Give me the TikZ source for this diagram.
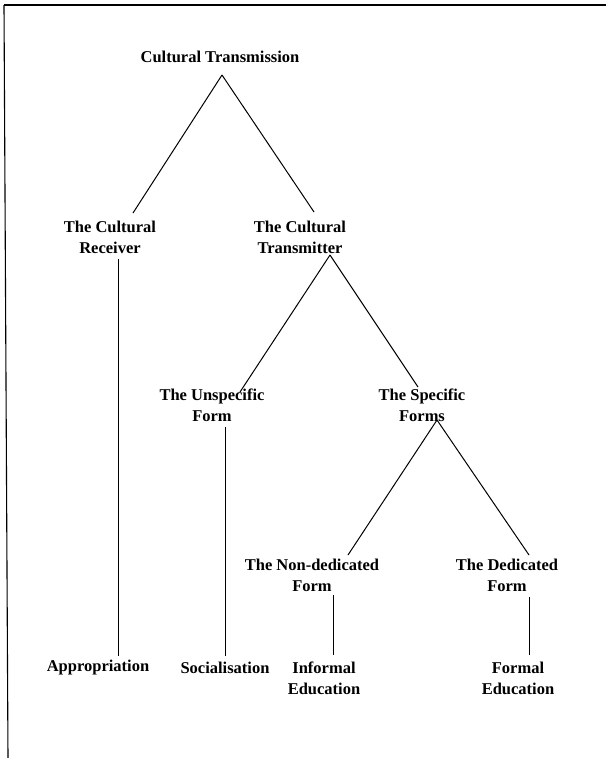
\documentclass[tikz,border=0pt]{standalone}
\usepackage{fontspec}
\setmainfont{Liberation Serif}
\usepackage{tikz}
\usetikzlibrary{positioning}
\tikzset{
  lbl/.style={align=center, inner sep=0pt,
    font=\fontsize{16.5}{21}\selectfont\bfseries},
  ln/.style={line width=1pt, black},
  frm/.style={line width=1.1pt, black},
}

\begin{document}
\begin{tikzpicture}[x=1pt,y=-1pt]
  \useasboundingbox (0,0) rectangle (606,758);
  % rahmen
  \draw[frm] (4,5) -- (606,5);
  \draw[frm] (4,5) -- (8,758);

  % ebene 1
  \node[lbl] (root) at (220,57) {Cultural Transmission};

  % ebene 2
  \node[lbl] (rec) at (110,237.5) {The Cultural\\Receiver};
  \node[lbl] (trans) at (300,237.5) {The Cultural\\Transmitter};

  % ebene 3
  \node[lbl] (unsp) at (212,405) {The Unspecific\\Form};
  \node[lbl] (spec) at (422,405) {The Specific\\Forms};

  % ebene 4
  \node[lbl] (nded) at (312,575.5) {The Non-dedicated\\Form};
  \node[lbl] (ded) at (507,575.5) {The Dedicated\\Form};

  % blaetter
  \node[lbl] (appr) at (98,668) {Appropriation};
  \node[lbl] (soc) at (225,668) {Socialisation};
  \node[lbl] (inf) at (324,678) {Informal\\Education};
  \node[lbl] (form) at (518,678) {Formal\\Education};

  \draw[ln] ([xshift=2pt,yshift=-18pt]root.center) -- ([xshift=23pt,yshift=24.5pt]rec.center);
  \draw[ln] ([xshift=2pt,yshift=-18pt]root.center) -- ([xshift=14pt,yshift=25.5pt]trans.center);
  \draw[ln] ([xshift=8pt,yshift=-21.5pt]rec.center) -- ([xshift=20pt,yshift=12pt]appr.center);
  \draw[ln] ([xshift=30pt,yshift=-17.5pt]trans.center) -- ([xshift=28pt,yshift=13pt]unsp.center);
  \draw[ln] ([xshift=30pt,yshift=-17.5pt]trans.center) -- ([xshift=-4pt,yshift=18pt]spec.center);
  \draw[ln] ([xshift=13pt,yshift=-22pt]unsp.center) -- ([yshift=12pt]soc.center);
  \draw[ln] ([xshift=15pt,yshift=-15pt]spec.center) -- ([xshift=36pt,yshift=20.5pt]nded.center);
  \draw[ln] ([xshift=15pt,yshift=-15pt]spec.center) -- ([xshift=22pt,yshift=20.5pt]ded.center);
  \draw[ln] ([xshift=21pt,yshift=-19.5pt]nded.center) -- ([xshift=9pt,yshift=23pt]inf.center);
  \draw[ln] ([xshift=22pt,yshift=-21.5pt]ded.center) -- ([xshift=11pt,yshift=23pt]form.center);
\end{tikzpicture}
\end{document}
